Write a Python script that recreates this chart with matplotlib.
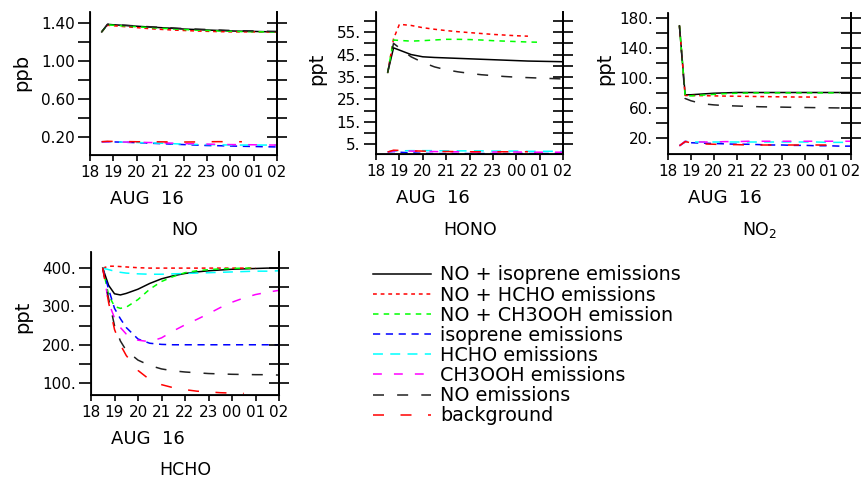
import matplotlib
matplotlib.use("Agg")
import matplotlib.pyplot as plt
import numpy as np

nan = np.nan

# x axis: hours after 18 UTC, Aug 16
hour_ticks = [0, 1, 2, 3, 4, 5, 6, 7, 8]
hour_labels = ["18", "19", "20", "21", "22", "23", "00", "01", "02"]

series_names = [
    "NO + isoprene emissions",
    "NO + HCHO emissions",
    "NO + CH3OOH emission",
    "isoprene emissions",
    "HCHO emissions",
    "CH3OOH emissions",
    "NO emissions",
    "background",
]

t_main = [0.5, 0.75, 1, 1.5, 2, 2.5, 3, 3.5, 4, 4.5, 5, 5.5, 6, 6.5, 7, 7.5, 8]
t_hcho = [0.5, 0.75, 1, 1.25, 1.5, 2, 2.5, 3, 3.5, 4, 4.5, 5, 5.5, 6, 6.5, 7, 7.5, 8]

# NO (ppb)
no_vals = [
    [1.31, 1.39, 1.385, 1.378, 1.37, 1.362, 1.355, 1.348, 1.34, 1.335, 1.33, 1.325, 1.32, 1.317, 1.315, 1.312, 1.31],
    [1.31, 1.38, 1.375, 1.365, 1.355, 1.345, 1.337, 1.33, 1.325, 1.32, 1.316, 1.313, 1.31, 1.31, 1.31, 1.31, 1.31],
    [1.31, 1.385, 1.38, 1.372, 1.364, 1.356, 1.349, 1.342, 1.335, 1.33, 1.325, 1.32, 1.316, 1.313, 1.311, 1.31, 1.31],
    [0.15, 0.15, 0.148, 0.145, 0.14, 0.135, 0.13, 0.125, 0.12, 0.115, 0.11, 0.108, 0.105, 0.102, 0.1, 0.097, 0.095],
    [0.15, 0.15, 0.148, 0.145, 0.142, 0.138, 0.135, 0.13, 0.125, 0.122, 0.12, 0.118, 0.115, 0.115, 0.115, 0.115, 0.115],
    [0.15, 0.15, 0.148, 0.147, 0.145, 0.142, 0.14, 0.135, 0.13, 0.128, 0.125, 0.122, 0.12, 0.119, 0.118, 0.116, 0.115],
    [1.31, 1.39, 1.387, 1.38, 1.372, 1.365, 1.358, 1.352, 1.345, 1.34, 1.335, 1.33, 1.325, 1.322, 1.32, 1.317, 1.315],
    [0.15, 0.155, 0.153, 0.152, 0.15, 0.15, 0.149, 0.148, 0.147, 0.148, 0.15, 0.151, 0.15, 0.15, nan, nan, nan],
]

# HONO (ppt)
hono_vals = [
    [37, 48, 47, 45, 44, 43.7, 43.5, 43.3, 43.1, 42.9, 42.7, 42.5, 42.3, 42.1, 42, 41.9, 41.8],
    [37, 52, 58.5, 58, 57, 56.3, 55.7, 55.2, 54.8, 54.4, 54, 53.7, 53.4, 53.2, nan, nan, nan],
    [37, 51.5, 51.3, 51, 51.2, 51.5, 51.8, 51.8, 51.7, 51.5, 51.2, 51, 50.8, 50.6, 50.5, nan, nan],
    [1.5, 1.7, 1.4, 1.1, 0.9, 0.8, 0.8, 0.8, 0.8, 0.8, 0.8, 0.8, 0.8, 0.8, 0.8, 0.8, 0.8],
    [1.5, 2, 2, 2.1, 2.1, 2.1, 2, 2, 2, 2, 1.9, 1.9, 1.9, 1.8, 1.8, 1.8, 1.8],
    [1.5, 2, 2, 1.9, 1.8, 1.7, 1.6, 1.6, 1.5, 1.5, 1.5, 1.5, 1.5, 1.4, 1.4, 1.4, 1.4],
    [37, 50, 48, 44, 41.5, 39.5, 38.2, 37.3, 36.6, 36, 35.6, 35.2, 34.9, 34.7, 34.5, 34.3, 34.1],
    [1.5, 2.3, 2.2, 2, 1.9, 1.8, 1.7, 1.7, 1.6, 1.6, 1.6, 1.6, 1.6, 1.6, nan, nan, nan],
]

# NO2 (ppt)
no2_vals = [
    [170, 78, 78, 79, 80, 80.5, 81, 81, 81, 81, 81, 81, 81, 81, 81, 81, 81],
    [170, 77, 77, 76.8, 76.5, 76.2, 76, 75.8, 75.6, 75.4, 75.2, 75, 75, 74.8, nan, nan, nan],
    [170, 76, 76.5, 77.5, 78.5, 79.5, 80, 80.3, 80.5, 80.5, 80.5, 80.5, 80.5, 80.5, 80.5, 80.5, nan],
    [10, 15, 14, 13.5, 13, 12.5, 12, 12, 11.5, 11, 11, 10.5, 10.5, 10, 10, 9.5, 9.5],
    [10, 16, 15, 15, 15, 15, 15, 15, 15, 15, 15, 15, 15, 15, 14.5, 14.5, 14.5],
    [10, 16, 15.5, 15, 15, 15.5, 15.5, 16, 16, 16, 16, 16, 16, 16, 16, 16, 16],
    [170, 73, 70, 66, 64.5, 63.5, 63, 62.5, 62, 61.7, 61.5, 61.2, 61, 60.8, 60.6, 60.4, 60.3],
    [10, 15.5, 14, 12.5, 12, 11.5, 11.5, 11, 11, 11, 11, 11, 11, 11, 11, nan, nan],
]

# HCHO (ppt)
hcho_vals = [
    [400, 355, 333, 330, 334, 345, 360, 372, 380, 386, 390, 393, 395, 397, 398, 399, 400, 400],
    [400, 405, 405, 404, 403, 401, 400, 400, 400, 400, 400, 400, 400, 400, 400, 400, nan, nan],
    [400, 330, 300, 295, 298, 318, 345, 365, 378, 388, 393, 396, 398, 399, 400, 400, nan, nan],
    [400, 345, 295, 268, 245, 215, 204, 201, 200, 200, 200, 200, 200, 200, 200, 200, 200, 200],
    [400, 396, 392, 389, 387, 385, 384, 384, 385, 386, 387, 388, 389, 390, 391, 392, 392, 393],
    [400, 310, 270, 245, 228, 212, 208, 218, 236, 252, 266, 281, 297, 311, 322, 331, 337, 342],
    [400, 320, 250, 210, 185, 160, 146, 137, 132, 129, 127, 125, 124, 123, 122.5, 122, 122, 121],
    [400, 310, 240, 200, 172, 133, 109, 96, 88, 83, 79, 77, 75, 74, 73, nan, nan, nan],
]

colors = ["black", "red", "#00ff00", "blue", "cyan", "magenta", "#222222", "red"]
dash_styles = [None, (2.5, 2.5), (3.6, 3.4), (4.7, 3.7), (6.5, 4.8), (5.8, 7.9), (7.2, 8.6), (7.2, 10.8)]

no_ticks = [0.2, 0.4, 0.6, 0.8, 1.0, 1.2, 1.4]
no_labels = ["0.20", "", "0.60", "", "1.00", "", "1.40"]
hono_ticks = [5, 10, 15, 20, 25, 30, 35, 40, 45, 50, 55, 60]
hono_labels = ["5.", "", "15.", "", "25.", "", "35.", "", "45.", "", "55.", ""]
no2_ticks = [20, 40, 60, 80, 100, 120, 140, 160, 180]
no2_labels = ["20.", "", "60.", "", "100.", "", "140.", "", "180."]
hcho_ticks = [100, 150, 200, 250, 300, 350, 400]
hcho_labels = ["100.", "", "200.", "", "300.", "", "400."]


def draw_panel(fig, rect, t, vals, ylim, yticks, ylabels, unit, title, title_xy, unit_xy):
    ax = fig.add_axes(rect)
    handles = []
    for k in range(len(vals)):
        line, = ax.plot(t, vals[k], color=colors[k], lw=1.1, label=series_names[k])
        if dash_styles[k] is not None:
            line.set_dashes(dash_styles[k])
        handles.append(line)

    ax.set_xlim(0, 8)
    ax.set_ylim(*ylim)
    ax.spines["top"].set_visible(False)
    for s in ["left", "right", "bottom"]:
        ax.spines[s].set_linewidth(1.3)

    ax.set_xticks(hour_ticks)
    ax.set_xticklabels(hour_labels, fontsize=11)
    ax.tick_params(axis="x", direction="out", length=4, width=1.2, pad=3)
    # longer tick at the day change
    ax.set_xticks([6], minor=True)
    ax.tick_params(axis="x", which="minor", direction="out", length=10, width=1.2)

    ax.set_yticks(yticks)
    ax.set_yticklabels(ylabels, fontsize=11)
    ax.tick_params(axis="y", direction="out", length=9, width=1.2, pad=2)

    ax2 = ax.twinx()
    ax2.set_ylim(*ylim)
    ax2.set_yticks(yticks)
    ax2.set_yticklabels([])
    ax2.tick_params(axis="y", direction="inout", length=14, width=1.2)
    ax2.spines["top"].set_visible(False)
    ax2.spines["right"].set_linewidth(1.3)

    fig.text(rect[0] + 20 / 861, rect[1] - 44 / 480, "AUG  16", fontsize=13, ha="left", va="center")
    fig.text(title_xy[0], title_xy[1], title, fontsize=12.5, ha="center", va="center")
    fig.text(unit_xy[0], unit_xy[1], unit, fontsize=14, rotation=90, ha="center", va="center")
    return handles


def main():
    fig = plt.figure(figsize=(8.61, 4.8), dpi=100)

    W = 861.0
    H = 480.0

    draw_panel(fig, [90 / W, 1 - 155 / H, 187 / W, 143 / H], t_main, no_vals,
               (0.01, 1.52), no_ticks, no_labels, "ppb", "NO",
               (185 / W, 1 - 230 / H), (22 / W, 1 - 72 / H))
    draw_panel(fig, [376 / W, 1 - 154 / H, 187 / W, 142 / H], t_main, hono_vals,
               (0.6, 64), hono_ticks, hono_labels, "ppt", "HONO",
               (470 / W, 1 - 230 / H), (317 / W, 1 - 69 / H))
    draw_panel(fig, [668 / W, 1 - 154 / H, 183 / W, 141 / H], t_main, no2_vals,
               (-1, 187), no2_ticks, no2_labels, "ppt", "NO$_2$",
               (760 / W, 1 - 230 / H), (605 / W, 1 - 69 / H))
    handles = draw_panel(fig, [91 / W, 1 - 395 / H, 188 / W, 143 / H], t_hcho, hcho_vals,
                         (69, 442), hcho_ticks, hcho_labels, "ppt", "HCHO",
                         (185 / W, 1 - 470 / H), (23 / W, 1 - 317 / H))

    fig.legend(handles=handles, loc="upper left", bbox_to_anchor=(360 / W, 1 - 252 / H),
               frameon=False, fontsize=13.8, handlelength=3.0, handletextpad=0.5,
               labelspacing=0.06, borderpad=0.2)

    fig.savefig("out.png", dpi=100)


if __name__ == "__main__":
    main()
